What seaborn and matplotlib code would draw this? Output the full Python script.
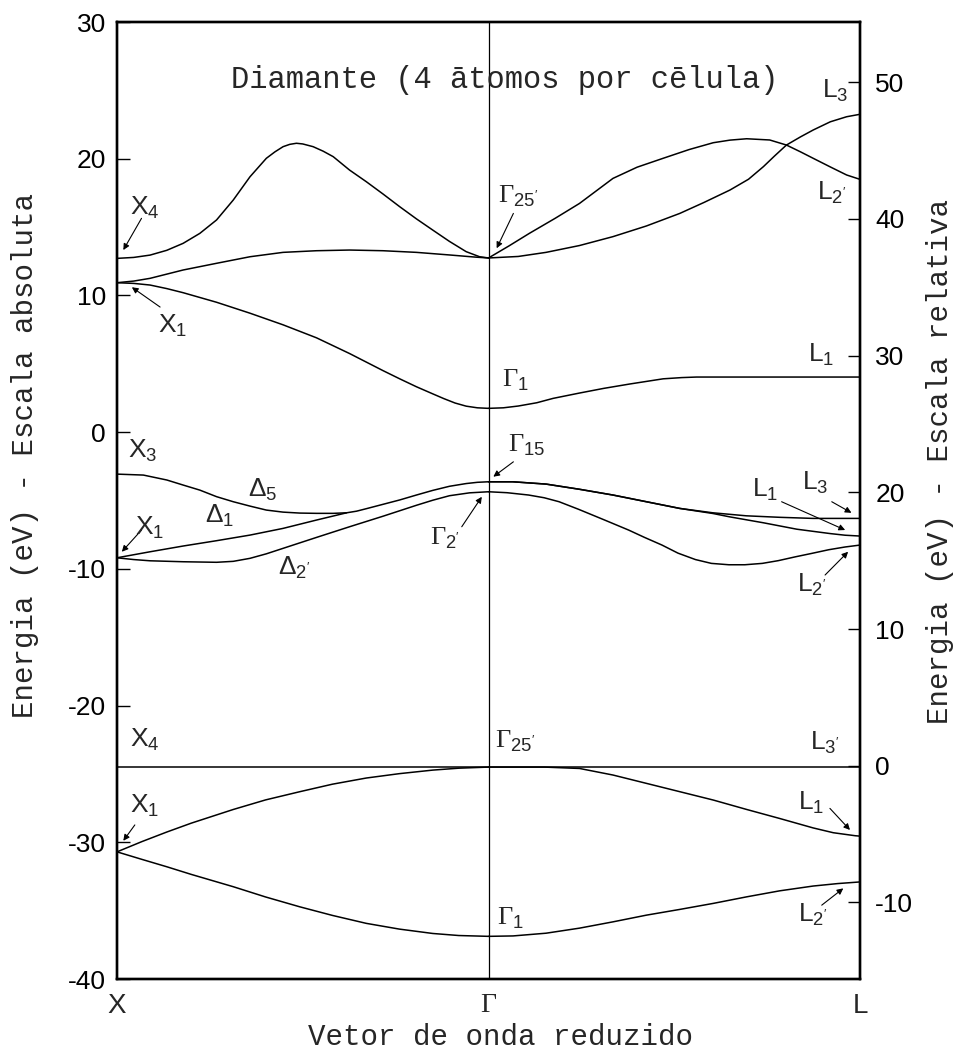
import numpy as np
import pandas as pd
import matplotlib
matplotlib.use("Agg")
import matplotlib.pyplot as plt
import seaborn as sns

# ---------------- data (k: X=0, Gamma=1, L=2 ; E in eV, absolute scale) ----------------
# X -> Gamma
k_X4_G25 = [0, 0.045, 0.089, 0.134, 0.178, 0.223, 0.268, 0.313, 0.358, 0.402, 0.425, 0.447, 0.465, 0.483, 0.50, 0.528, 0.555, 0.582, 0.626, 0.671, 0.716, 0.761, 0.806, 0.85, 0.895, 0.94, 0.976, 1.0]
E_X4_G25 = [12.71, 12.78, 12.95, 13.3, 13.81, 14.54, 15.52, 16.98, 18.68, 20.03, 20.5, 20.88, 21.05, 21.13, 21.08, 20.88, 20.55, 20.15, 19.17, 18.32, 17.42, 16.49, 15.6, 14.78, 13.95, 13.2, 12.83, 12.74]

k_X1_G25 = [0, 0.045, 0.089, 0.178, 0.268, 0.358, 0.447, 0.537, 0.626, 0.716, 0.806, 0.895, 0.966, 1.0]
E_X1_G25 = [10.93, 11.05, 11.25, 11.86, 12.35, 12.83, 13.15, 13.27, 13.32, 13.27, 13.15, 12.96, 12.8, 12.74]

k_X1_G1 = [0, 0.045, 0.089, 0.134, 0.178, 0.268, 0.358, 0.447, 0.537, 0.626, 0.716, 0.761, 0.806, 0.85, 0.88, 0.91, 0.94, 0.97, 1.0]
E_X1_G1 = [10.93, 10.88, 10.76, 10.5, 10.2, 9.5, 8.7, 7.85, 6.9, 5.75, 4.5, 3.9, 3.32, 2.8, 2.45, 2.13, 1.9, 1.78, 1.74]

k_X3_G15 = [0, 0.071, 0.134, 0.178, 0.223, 0.268, 0.313, 0.358, 0.402, 0.447, 0.492, 0.537, 0.582, 0.618, 0.645, 0.671, 0.716, 0.761, 0.806, 0.85, 0.895, 0.94, 0.97, 1.0]
E_X3_G15 = [-3.07, -3.14, -3.5, -3.87, -4.24, -4.72, -5.09, -5.41, -5.7, -5.85, -5.92, -5.94, -5.94, -5.9, -5.78, -5.6, -5.28, -4.96, -4.6, -4.26, -3.96, -3.76, -3.67, -3.63]

k_X1_D1 = [0, 0.089, 0.178, 0.268, 0.358, 0.447, 0.537, 0.618]
E_X1_D1 = [-9.19, -8.75, -8.33, -7.94, -7.53, -7.04, -6.43, -5.9]

k_X1_G2 = [0, 0.045, 0.089, 0.178, 0.268, 0.313, 0.358, 0.402, 0.447, 0.537, 0.626, 0.716, 0.806, 0.85, 0.895, 0.949, 1.0]
E_X1_G2 = [-9.19, -9.32, -9.41, -9.48, -9.52, -9.45, -9.23, -8.9, -8.5, -7.7, -6.92, -6.15, -5.35, -4.98, -4.65, -4.44, -4.36]

k_X4_flat = [0, 1.0]
E_X4_flat = [-24.5, -24.5]

k_X1_G25v = [0, 0.067, 0.134, 0.2, 0.313, 0.4, 0.492, 0.58, 0.671, 0.76, 0.85, 0.92, 1.0]
E_X1_G25v = [-30.7, -29.95, -29.25, -28.6, -27.6, -26.9, -26.3, -25.75, -25.3, -24.98, -24.72, -24.58, -24.5]

k_X1_G1v = [0, 0.067, 0.134, 0.2, 0.313, 0.4, 0.492, 0.58, 0.671, 0.76, 0.85, 0.92, 1.0]
E_X1_G1v = [-30.7, -31.25, -31.79, -32.35, -33.25, -34.0, -34.72, -35.35, -35.93, -36.35, -36.67, -36.82, -36.88]

# Gamma -> L
k_G25_L3 = [1.0, 1.08, 1.155, 1.245, 1.335, 1.425, 1.515, 1.58, 1.65, 1.70, 1.74, 1.77, 1.802, 1.84, 1.874, 1.92, 1.964, 2.0]
E_G25_L3 = [12.74, 12.85, 13.15, 13.65, 14.3, 15.08, 16.0, 16.8, 17.71, 18.5, 19.42, 20.2, 21.0, 21.6, 22.1, 22.7, 23.07, 23.25]

k_G25_L2 = [1.0, 1.055, 1.11, 1.18, 1.245, 1.335, 1.40, 1.47, 1.54, 1.605, 1.65, 1.695, 1.757, 1.802, 1.84, 1.874, 1.92, 1.964, 2.0]
E_G25_L2 = [12.74, 13.62, 14.54, 15.65, 16.73, 18.56, 19.38, 20.03, 20.67, 21.17, 21.36, 21.46, 21.37, 21.0, 20.5, 20.03, 19.4, 18.81, 18.49]

k_G1_L1 = [1.0, 1.04, 1.08, 1.13, 1.174, 1.245, 1.31, 1.38, 1.47, 1.52, 1.56, 1.7, 2.0]
E_G1_L1 = [1.74, 1.78, 1.91, 2.15, 2.47, 2.86, 3.2, 3.52, 3.9, 3.99, 4.03, 4.03, 4.03]

k_G15_L3 = [1.0, 1.065, 1.155, 1.245, 1.335, 1.425, 1.515, 1.604, 1.694, 1.784, 1.874, 2.0]
E_G15_L3 = [-3.63, -3.63, -3.8, -4.18, -4.6, -5.09, -5.58, -5.9, -6.12, -6.23, -6.31, -6.31]

k_G15_L1 = [1.0, 1.065, 1.155, 1.245, 1.335, 1.425, 1.515, 1.604, 1.65, 1.74, 1.83, 1.92, 1.96, 2.0]
E_G15_L1 = [-3.63, -3.63, -3.8, -4.18, -4.6, -5.09, -5.58, -5.95, -6.2, -6.63, -7.1, -7.42, -7.54, -7.6]

k_G2_L2 = [1.0, 1.05, 1.108, 1.15, 1.19, 1.243, 1.31, 1.377, 1.42, 1.467, 1.51, 1.557, 1.60, 1.647, 1.69, 1.737, 1.78, 1.826, 1.87, 1.916, 1.96, 2.0]
E_G2_L2 = [-4.36, -4.43, -4.6, -4.8, -5.09, -5.65, -6.4, -7.16, -7.7, -8.26, -8.85, -9.32, -9.6, -9.7, -9.7, -9.6, -9.4, -9.12, -8.87, -8.6, -8.4, -8.26]

k_G25_L3v = [1.0, 2.0]
E_G25_L3v = [-24.5, -24.5]

k_G25_L1v = [1.0, 1.15, 1.245, 1.335, 1.425, 1.515, 1.605, 1.695, 1.784, 1.874, 1.928, 1.987, 2.0]
E_G25_L1v = [-24.5, -24.5, -24.6, -25.08, -25.69, -26.3, -26.91, -27.6, -28.26, -28.95, -29.3, -29.52, -29.55]

k_G1_L2v = [1.0, 1.066, 1.155, 1.245, 1.335, 1.425, 1.515, 1.605, 1.695, 1.784, 1.874, 1.94, 2.0]
E_G1_L2v = [-36.88, -36.85, -36.65, -36.28, -35.82, -35.33, -34.91, -34.47, -33.99, -33.55, -33.2, -33.02, -32.9]

bands = {
    "X4-G25": (k_X4_G25, E_X4_G25), "X1-G25": (k_X1_G25, E_X1_G25),
    "X1-G1": (k_X1_G1, E_X1_G1), "X3-G15": (k_X3_G15, E_X3_G15),
    "X1-D1": (k_X1_D1, E_X1_D1), "X1-G2": (k_X1_G2, E_X1_G2),
    "X4-flat": (k_X4_flat, E_X4_flat), "X1-G25v": (k_X1_G25v, E_X1_G25v),
    "X1-G1v": (k_X1_G1v, E_X1_G1v), "G25-L3": (k_G25_L3, E_G25_L3),
    "G25-L2": (k_G25_L2, E_G25_L2), "G1-L1": (k_G1_L1, E_G1_L1),
    "G15-L3": (k_G15_L3, E_G15_L3), "G15-L1": (k_G15_L1, E_G15_L1),
    "G2-L2": (k_G2_L2, E_G2_L2), "G25-L3v": (k_G25_L3v, E_G25_L3v),
    "G25-L1v": (k_G25_L1v, E_G25_L1v), "G1-L2v": (k_G1_L2v, E_G1_L2v),
}

k_ticks = [0, 1, 2]
k_tick_labels = ["X", "Γ", "L"]
abs_ticks = [30, 20, 10, 0, -10, -20, -30, -40]
rel_ticks = [50, 40, 30, 20, 10, 0, -10]
rel_offset = 24.4   # relative = absolute + offset

title = "Diamante (4 ātomos por cēlula)"
xlabel = "Vetor de onda reduzido"
ylabel_left = "Energia (eV) - Escala absoluta"
ylabel_right = "Energia (eV) - Escala relativa"

# labels: (text, k, E, is_gamma, arrow_from, arrow_to)
labels = [
    ("X$_4$", 0.035, 15.88, False, (0.066, 15.64), (0.017, 13.32)),
    ("X$_1$", 0.110, 7.25, False, (0.116, 9.15), (0.040, 10.6)),
    ("X$_3$", 0.030, -1.89, False, None, None),
    ("Δ$_5$", 0.353, -4.75, False, None, None),
    ("Δ$_1$", 0.237, -6.65, False, None, None),
    ("X$_1$", 0.048, -7.53, False, (0.066, -7.16), (0.013, -8.75)),
    ("Δ$_{2'}$", 0.433, -10.45, False, None, None),
    ("Γ$_{2'}$", 0.843, -8.26, True, (0.928, -6.92), (0.982, -4.73)),
    ("Γ$_{25'}$", 1.026, 16.76, True, (1.067, 16.0), (1.022, 13.45)),
    ("Γ$_1$", 1.036, 3.30, True, None, None),
    ("Γ$_{15}$", 1.052, -1.46, True, (1.067, -2.17), (1.013, -3.26)),
    ("L$_3$", 1.898, 24.44, False, None, None),
    ("L$_{2'}$", 1.884, 16.98, False, None, None),
    ("L$_1$", 1.86, 5.13, False, None, None),
    ("L$_1$", 1.709, -4.75, False, (1.789, -5.09), (1.960, -7.16)),
    ("L$_3$", 1.844, -4.24, False, (1.924, -5.09), (1.977, -5.9)),
    ("L$_{2'}$", 1.830, -11.7, False, (1.906, -10.45), (1.968, -8.75)),
    ("X$_4$", 0.035, -23.04, False, None, None),
    ("X$_1$", 0.035, -27.86, False, (0.048, -28.73), (0.017, -29.89)),
    ("Γ$_{25'}$", 1.017, -23.11, True, None, None),
    ("L$_{3'}$", 1.865, -23.26, False, None, None),
    ("L$_1$", 1.833, -27.64, False, (1.919, -27.52), (1.973, -29.1)),
    ("Γ$_1$", 1.023, -36.06, True, None, None),
    ("L$_{2'}$", 1.833, -35.84, False, (1.897, -34.6), (1.955, -33.37)),
]

# ---------------- style ----------------
sns.set_theme(style="ticks")
plt.rcParams["font.family"] = ["Liberation Sans", "DejaVu Sans"]
plt.rcParams["mathtext.fontset"] = "custom"
plt.rcParams["mathtext.rm"] = "Liberation Sans"
plt.rcParams["mathtext.it"] = "Liberation Sans"
plt.rcParams["mathtext.bf"] = "Liberation Sans:bold"
plt.rcParams["axes.unicode_minus"] = False

W, H = 956, 1061
fig = plt.figure(figsize=(W / 100, H / 100), dpi=100)
ax = fig.add_axes([117 / W, 1 - 979 / H, (860 - 117) / W, (979 - 22) / H])
ax.set_facecolor("white")

rows = []
for name, (ks, es) in bands.items():
    for kk, ee in zip(ks, es):
        rows.append((name, kk, ee))
df = pd.DataFrame(rows, columns=["band", "k", "E"])
sns.lineplot(data=df, x="k", y="E", units="band", estimator=None, sort=False,
             color="black", lw=1.1, ax=ax, legend=False)
for ln in ax.get_lines():
    ln.set_solid_joinstyle("round")

ax.axvline(1, color="black", lw=0.9)
ax.set_xlim(0, 2)
ax.set_ylim(-40, 30)
ax.set_xticks(k_ticks)
ax.set_xticklabels([])
ax.tick_params(axis="x", length=0)
for kk, lab in zip(k_ticks, k_tick_labels):
    fam = ["Liberation Serif", "DejaVu Serif"] if lab == "Γ" else ["Liberation Sans"]
    ax.text(kk, -41.0, lab, ha="center", va="top", fontsize=20, family=fam,
            transform=ax.transData)
ax.set_yticks(abs_ticks)
ax.set_yticklabels([str(t) for t in abs_ticks])
ax.tick_params(axis="y", direction="in", length=9, width=1.0, pad=8,
               labelsize=19, colors="black", right=False)
ax.set_xlabel("")
ax.set_ylabel("")

ax2 = ax.twinx()
ax2.set_ylim(-40 + rel_offset, 30 + rel_offset)
ax2.set_yticks(rel_ticks)
ax2.set_yticklabels([str(t) for t in rel_ticks])
ax2.tick_params(axis="y", direction="in", length=9, width=1.0, pad=11,
                labelsize=19, colors="black")

for a in (ax, ax2):
    for s in a.spines.values():
        s.set_linewidth(1.7)
        s.set_color("black")

for text, kk, ee, isg, a0, a1 in labels:
    fam = ["Liberation Serif", "DejaVu Serif"] if isg else ["Liberation Sans", "DejaVu Sans"]
    ax.text(kk, ee, text, ha="left", va="baseline", fontsize=19, family=fam, zorder=5)
    if a0 is not None:
        ax.annotate("", xy=a1, xytext=a0,
                    arrowprops=dict(arrowstyle="-|>", lw=0.8, color="black",
                                    mutation_scale=9, shrinkA=0, shrinkB=0))

mono = ["Liberation Mono", "DejaVu Sans Mono"]
ax.text(1.044, 25.17, title, ha="center", va="baseline", fontsize=22, family=mono)
fig.text(500 / W, 1 - 1037 / H, xlabel, ha="center", va="center", fontsize=21, family=mono)
fig.text(25 / W, 1 - 455 / H, ylabel_left, ha="center", va="center", rotation=90,
         fontsize=21, family=mono)
fig.text(940 / W, 1 - 462 / H, ylabel_right, ha="center", va="center", rotation=90,
         fontsize=21, family=mono)

fig.savefig("out.png", dpi=100, facecolor="white")
